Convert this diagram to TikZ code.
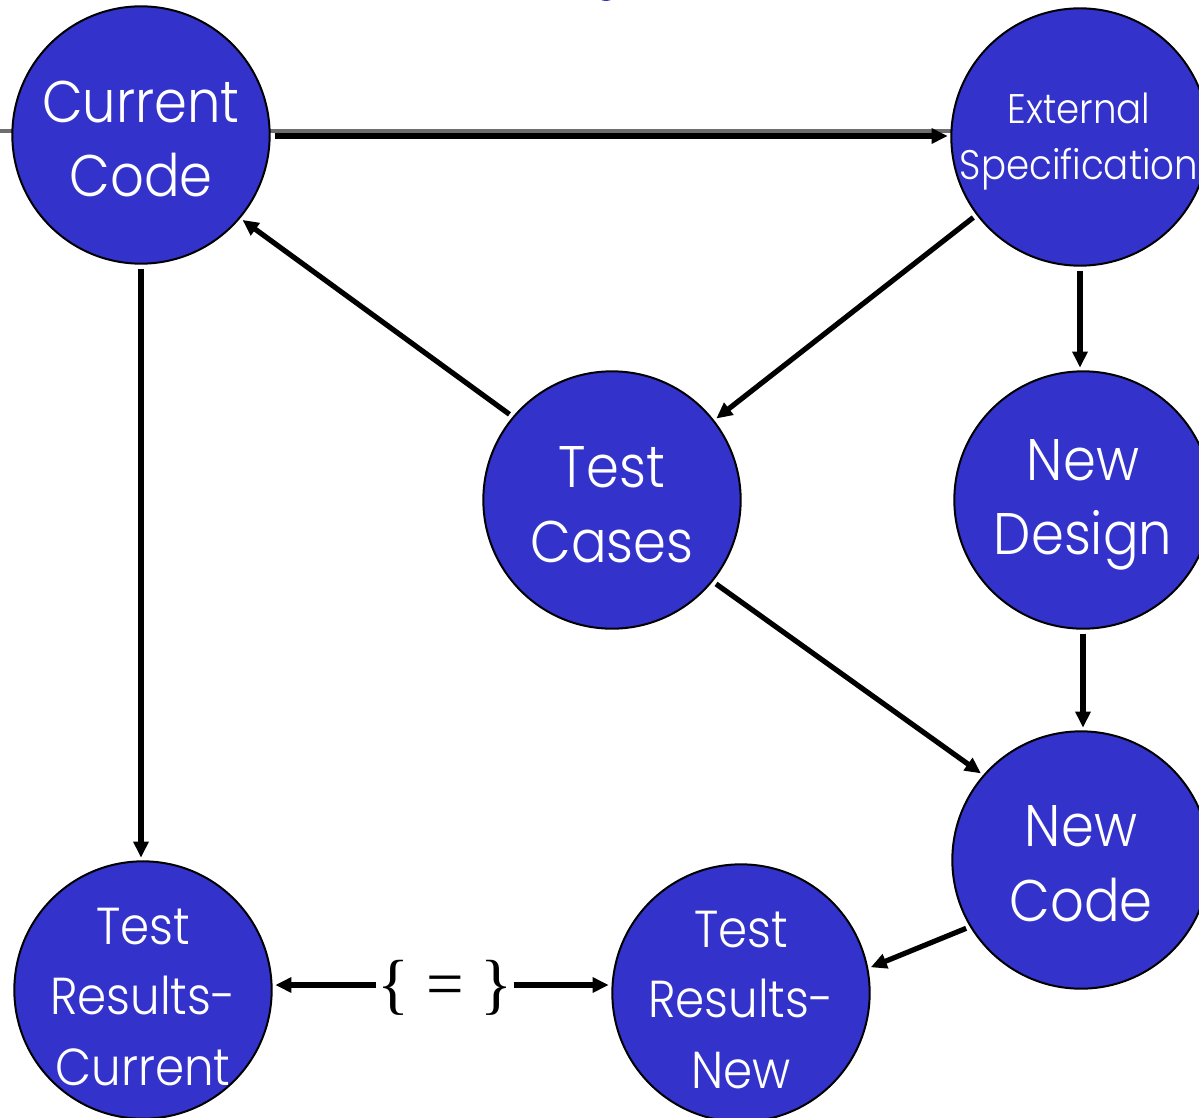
\documentclass[tikz,border=0pt]{standalone}
\usepackage{fontspec}
\setmainfont{Poppins Light}[FakeStretch=0.9]
\newfontfamily\eqfont{Liberation Serif}
\usetikzlibrary{arrows.meta}
\definecolor{nodeblue}{RGB}{51,51,204}
\definecolor{rulegray}{RGB}{110,110,110}
\begin{document}
\begin{tikzpicture}[x=0.75pt,y=-0.75pt,
  bub/.style={circle,draw=black,line width=1.5pt,fill=nodeblue,minimum size=193pt,inner sep=0pt},
  lbl/.style={text=white,align=center,inner sep=0pt},
  conn/.style={line width=3.9pt,-{Triangle[length=12pt,width=11pt]},shorten <=3pt,shorten >=2pt},
  big/.style={font=\fontsize{44pt}{56pt}\selectfont},
  small/.style={font=\fontsize{31pt}{42pt}\selectfont},
  mid/.style={font=\fontsize{39pt}{53pt}\selectfont}]
\useasboundingbox (0,0) rectangle (1199,1117);
\clip (0,0) rectangle (1199,1117);
% slide rule and title fragment
\draw[rulegray,line width=3.6pt] (0,131) -- (952,131);
\fill[nodeblue] (606,-4) ellipse (8 and 5);
% circles
\node[bub] (cc)  at (141,135) {};
\node[bub] (es)  at (1080,137) {};
\node[bub] (tc)  at (612,500) {};
\node[bub] (nd)  at (1083,500) {};
\node[bub] (nc)  at (1081,860) {};
\node[bub] (trc) at (143,990) {};
\node[bub] (trn) at (741,993) {};
% texts
\node[lbl,big]   (ccl)  at (141,139) {Current\\Code};
\node[lbl,small] (esl)  at (1079,142) {External\\Specification};
\node[lbl,big]   (tcl)  at (612,505) {Test\\Cases};
\node[lbl,big]   (ndl)  at (1083,505) {New\\Design};
\node[lbl,big]   (ncl)  at (1081,864) {New\\Code};
\node[lbl,mid]   (trcl) at (143,997) {Test\\Results-\\Current};
\node[lbl,mid]   (trnl) at (741,1000) {Test\\Results-\\New};
\node[font=\fontsize{50pt}{50pt}\selectfont\eqfont,inner sep=1pt] (eq) at (445,988) {\{ = \}};
% connectors
\draw[conn] (cc.east |- 0,136) -- (es.west |- 0,136);
\draw[conn] (cc.south) -- (cc.south |- trc.north);
\draw[conn] (tc.140) -- (cc.320);
\draw[conn] (es.217) -- (tc.38);
\draw[conn] (es.south) -- (es.south |- nd.north);
\draw[conn] (nd.south) -- (nd.south |- nc.north);
\draw[conn] (tc.321) -- (nc.139);
\draw[conn] (nc.211) -- (trn.11);
\draw[conn,shorten <=0pt] (eq.west |- 0,985) -- (trc.east |- 0,985);
\draw[conn,shorten <=0pt] (eq.east |- 0,985) -- (trn.west |- 0,985);
\end{tikzpicture}
\end{document}
